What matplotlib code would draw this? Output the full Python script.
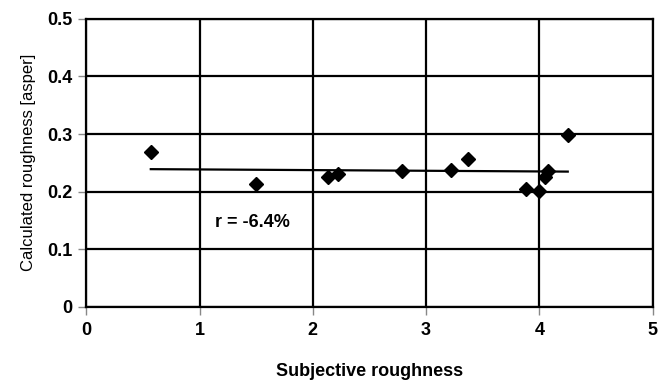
import numpy as np
import matplotlib.pyplot as plt

plt.rcParams['font.family'] = ['Liberation Sans', 'DejaVu Sans']

# subjective vs calculated roughness
subjective = [0.57, 1.50, 2.13, 2.22, 2.79, 3.22, 3.37, 3.88, 4.00, 4.05, 4.08, 4.25]
calculated = [0.268, 0.213, 0.226, 0.231, 0.236, 0.238, 0.257, 0.205, 0.201, 0.226, 0.236, 0.298]
x_ticks = [0, 1, 2, 3, 4, 5]
y_ticks = [0, 0.1, 0.2, 0.3, 0.4, 0.5]
y_tick_labels = ['0', '0.1', '0.2', '0.3', '0.4', '0.5']

fig = plt.figure(figsize=(6.58, 3.85), dpi=100)
ax = fig.add_axes([0.131, 0.203, 0.861, 0.748])

# linear trend line over the data range
k, b = np.polyfit(subjective, calculated, 1)
xs = np.array([min(subjective), max(subjective)])
ax.plot(xs, k * xs + b, color='black', lw=1.6, zorder=3)

ax.plot(subjective, calculated, 'D', color='black', markersize=7.5, zorder=4)

ax.set_xlim(0, 5)
ax.set_ylim(0, 0.5)
ax.set_xticks(x_ticks)
ax.set_yticks(y_ticks)
ax.set_yticklabels(y_tick_labels)
ax.grid(True, color='black', lw=1.6)
for s in ax.spines.values():
    s.set_linewidth(1.6)
ax.tick_params(direction='out', length=6, width=1, color='#888888', labelsize=13, pad=4)
ax.tick_params(axis='x', pad=5)
for lab in ax.get_xticklabels() + ax.get_yticklabels():
    lab.set_fontweight('bold')

ax.set_xlabel('Subjective roughness', fontsize=13, fontweight='bold', labelpad=17)
ax.set_ylabel('Calculated roughness [asper]', fontsize=12, labelpad=8)
ax.text(1.14, 0.146, 'r = -6.4%', fontsize=13, fontweight='bold', va='center')

fig.savefig('out.png', dpi=100)
